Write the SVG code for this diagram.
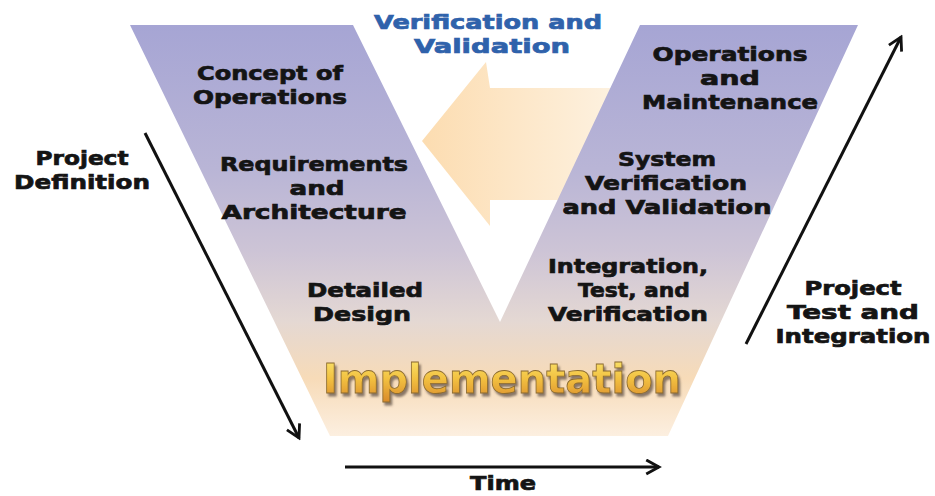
<svg xmlns="http://www.w3.org/2000/svg" width="935" height="496" viewBox="0 0 935 496">
<defs>
<linearGradient id="vgrad" gradientUnits="userSpaceOnUse" x1="0" y1="25" x2="0" y2="436">
<stop offset="0" stop-color="#a6a5d4"/>
<stop offset="0.35" stop-color="#b9b5d6"/>
<stop offset="0.55" stop-color="#cdc4d6"/>
<stop offset="0.72" stop-color="#e4d8d3"/>
<stop offset="0.86" stop-color="#f7dbb8"/>
<stop offset="1" stop-color="#fcefe0"/>
</linearGradient>
<linearGradient id="agrad" gradientUnits="userSpaceOnUse" x1="420" y1="0" x2="640" y2="0">
<stop offset="0" stop-color="#fcdcb0"/>
<stop offset="0.4" stop-color="#fde6c6"/>
<stop offset="1" stop-color="#fdf4e6"/>
</linearGradient>
<linearGradient id="igrad" x1="0" y1="0" x2="0" y2="1">
<stop offset="0" stop-color="#fbe870"/>
<stop offset="0.5" stop-color="#f2c040"/>
<stop offset="1" stop-color="#d98a2a"/>
</linearGradient>
<filter id="shadow" x="-5%" y="-20%" width="110%" height="150%">
<feDropShadow dx="2" dy="3" stdDeviation="0.8" flood-color="#5a4a40" flood-opacity="0.7"/>
</filter>
<marker id="arr" viewBox="0 0 12 12" refX="10" refY="6" markerWidth="17" markerHeight="17" markerUnits="userSpaceOnUse" orient="auto">
<path d="M1,1 L10,6 L1,11" fill="none" stroke="#111" stroke-width="2"/>
</marker>
<style>
.lbl{font-family:"DejaVu Sans","Liberation Sans",sans-serif;font-weight:bold;font-size:20px;fill:#141414;stroke:#141414;stroke-width:0.7;text-anchor:middle}
.blue{fill:#2f62ab;stroke:#2f62ab}
.impl{font-family:"DejaVu Sans","Liberation Sans",sans-serif;font-weight:bold;font-size:40px;text-anchor:middle}
.conn{stroke:#111;stroke-width:3;fill:none}
</style>
</defs>
<rect width="935" height="496" fill="#ffffff"/>
<g id="vv-arrow">
<polygon points="422,141 486,62 490,88 640,88 640,200 490,200 490,226" fill="url(#agrad)"/>
</g>
<g id="v-shape">
<polygon points="130,25 353,25 500,322 640,25 858,25 668,436 330,436" fill="url(#vgrad)"/>
</g>
<g id="verification-validation">
<text class="lbl blue" x="488" y="29" textLength="228" lengthAdjust="spacingAndGlyphs">Verification and</text>
<text class="lbl blue" x="492" y="53" textLength="156" lengthAdjust="spacingAndGlyphs">Validation</text>
</g>
<g id="concept">
<text class="lbl" x="270" y="80" textLength="146" lengthAdjust="spacingAndGlyphs">Concept of</text>
<text class="lbl" x="270" y="104" textLength="154" lengthAdjust="spacingAndGlyphs">Operations</text>
</g>
<g id="requirements">
<text class="lbl" x="314" y="171" textLength="188" lengthAdjust="spacingAndGlyphs">Requirements</text>
<text class="lbl" x="317" y="195" textLength="55" lengthAdjust="spacingAndGlyphs">and</text>
<text class="lbl" x="314" y="219" textLength="185" lengthAdjust="spacingAndGlyphs">Architecture</text>
</g>
<g id="detailed">
<text class="lbl" x="365" y="297" textLength="116" lengthAdjust="spacingAndGlyphs">Detailed</text>
<text class="lbl" x="362" y="321" textLength="98" lengthAdjust="spacingAndGlyphs">Design</text>
</g>
<g id="operations">
<text class="lbl" x="730" y="61" textLength="155" lengthAdjust="spacingAndGlyphs">Operations</text>
<text class="lbl" x="730" y="85" textLength="60" lengthAdjust="spacingAndGlyphs">and</text>
<text class="lbl" x="730" y="109" textLength="176" lengthAdjust="spacingAndGlyphs">Maintenance</text>
</g>
<g id="system">
<text class="lbl" x="667" y="166" textLength="98" lengthAdjust="spacingAndGlyphs">System</text>
<text class="lbl" x="666" y="190" textLength="162" lengthAdjust="spacingAndGlyphs">Verification</text>
<text class="lbl" x="667" y="214" textLength="209" lengthAdjust="spacingAndGlyphs">and Validation</text>
</g>
<g id="integration">
<text class="lbl" x="628" y="273" textLength="160" lengthAdjust="spacingAndGlyphs">Integration,</text>
<text class="lbl" x="634" y="297" textLength="112" lengthAdjust="spacingAndGlyphs">Test, and</text>
<text class="lbl" x="628" y="321" textLength="160" lengthAdjust="spacingAndGlyphs">Verification</text>
</g>
<g id="implementation">
<text class="impl" x="502" y="393" fill="url(#igrad)" stroke="#8a6a30" stroke-width="0.8" filter="url(#shadow)">Implementation</text>
</g>
<g id="project-definition">
<text class="lbl" x="82" y="165" textLength="93" lengthAdjust="spacingAndGlyphs">Project</text>
<text class="lbl" x="82" y="189" textLength="136" lengthAdjust="spacingAndGlyphs">Definition</text>
</g>
<g id="project-test">
<text class="lbl" x="853" y="295" textLength="97" lengthAdjust="spacingAndGlyphs">Project</text>
<text class="lbl" x="853" y="319" textLength="132" lengthAdjust="spacingAndGlyphs">Test and</text>
<text class="lbl" x="853" y="343" textLength="155" lengthAdjust="spacingAndGlyphs">Integration</text>
</g>
<g id="time">
<text class="lbl" x="503" y="490" textLength="66" lengthAdjust="spacingAndGlyphs">Time</text>
</g>
<g id="connectors">
<line class="conn" x1="145" y1="133" x2="299" y2="438" marker-end="url(#arr)"/>
<line class="conn" x1="746" y1="344" x2="901" y2="37" marker-end="url(#arr)"/>
<line class="conn" x1="345" y1="467" x2="659" y2="467" marker-end="url(#arr)"/>
</g>
</svg>
